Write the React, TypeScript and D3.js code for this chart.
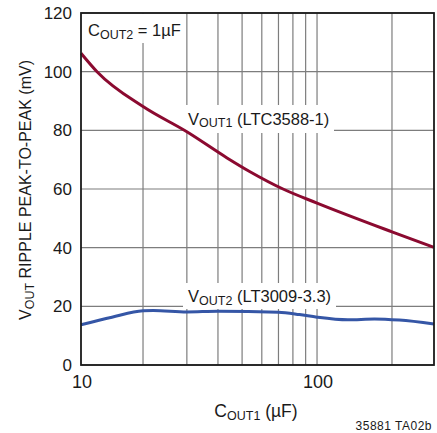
import React from "react";
import * as d3 from "d3";

// ---- data ----
const xDomain = [11.27, 295];
const yDomain = [0, 120];
const xGridValues = [20, 30, 40, 50, 60, 70, 80, 90, 100, 200];
const yGridValues = [0, 20, 40, 60, 80, 100, 120];
const xTickLabels = [
  { value: 11.27, label: "10" },
  { value: 100, label: "100" },
];
const yTickLabels = ["0", "20", "40", "60", "80", "100", "120"];

const vout1X = [11.27, 13.07, 20, 30, 43.5, 53.8, 73, 100, 200, 295];
const vout1Y = [106.3, 100, 88.1, 79.5, 70.6, 65.9, 60, 55.2, 45.4, 40.1];

const vout2X = [11.27, 15, 20, 22, 30, 40, 70, 85, 100, 133, 170, 214, 295];
const vout2Y = [13.7, 16.3, 18.5, 18.6, 18.1, 18.3, 18.0, 17.2, 16.3, 15.4, 15.7, 15.3, 14.0];

const FONT = "'Liberation Sans', Arial, Helvetica, sans-serif";

export default function App() {
  const W = 437, H = 433;
  const L = 81, R = 434, T = 13, B = 365;
  const x = d3.scaleLog().domain(xDomain).range([L, R]);
  const y = d3.scaleLinear().domain(yDomain).range([B, T]);

  const line = d3
    .line<[number, number]>()
    .x((d) => x(d[0]))
    .y((d) => y(d[1]))
    .curve(d3.curveMonotoneX);

  const red = line(vout1X.map((v, i) => [v, vout1Y[i]]) as [number, number][]) || "";
  const blue = line(vout2X.map((v, i) => [v, vout2Y[i]]) as [number, number][]) || "";

  const gridColor = "#7d7d7d";
  const sub = (t: string) => (
    <tspan fontSize={12.5} dy={2.5}>{t}</tspan>
  );

  return (
    <svg
      width={W}
      height={H}
      style={{ position: "absolute", left: 0, top: 0, background: "#fff" }}
      fontFamily={FONT}
    >
      <rect x={0} y={0} width={W} height={H} fill="#fff" />
      {/* grid */}
      {xGridValues.map((v) => (
        <line key={"gx" + v} x1={x(v)} x2={x(v)} y1={T} y2={B} stroke={gridColor} strokeWidth={1.2} />
      ))}
      {yGridValues.map((v) => (
        <line key={"gy" + v} x1={L} x2={R} y1={y(v)} y2={y(v)} stroke={gridColor} strokeWidth={1.2} />
      ))}
      {/* label backgrounds */}
      <rect x={L + 1} y={T + 1} width={101} height={29} fill="#fff" />
      <rect x={184} y={105} width={150} height={28} fill="#fff" />
      <rect x={183} y={283} width={153} height={26} fill="#fff" />

      {/* curves */}
      <path d={red} fill="none" stroke="#8b0a30" strokeWidth={3} strokeLinejoin="round" />
      <path d={blue} fill="none" stroke="#3556a6" strokeWidth={3} strokeLinejoin="round" />

      {/* frame */}
      <rect x={L} y={T} width={R - L} height={B - T} fill="none" stroke="#1a1a1a" strokeWidth={1.8} />

      {/* annotations */}
      <text x={88} y={36} fontSize={16.5} fill="#1a1a1a">
        C{sub("OUT2")}<tspan dy={-2.5}> = 1µF</tspan>
      </text>
      <text x={188} y={124.5} fontSize={16.5} fill="#1a1a1a">
        V{sub("OUT1")}<tspan dy={-2.5}> (LTC3588-1)</tspan>
      </text>
      <text x={188} y={302} fontSize={16.5} fill="#1a1a1a">
        V{sub("OUT2")}<tspan dy={-2.5}> (LT3009-3.3)</tspan>
      </text>

      {/* y ticks */}
      {yGridValues.map((v, i) => (
        <text key={"yt" + v} x={72} y={y(v)} dy="0.36em" textAnchor="end" fontSize={17} fill="#1a1a1a">
          {yTickLabels[i]}
        </text>
      ))}
      {/* x ticks */}
      {xTickLabels.map((t) => (
        <text key={"xt" + t.label} x={x(t.value) + 1} y={388} textAnchor="middle" fontSize={18} fill="#1a1a1a">
          {t.label}
        </text>
      ))}

      {/* axis titles */}
      <text x={256} y={417} textAnchor="middle" fontSize={17.5} fill="#1a1a1a">
        C{sub("OUT1")}<tspan dy={-2.5}> (µF)</tspan>
      </text>
      <text transform="translate(31,190) rotate(-90)" textAnchor="middle" fontSize={16} fill="#1a1a1a">
        V{sub("OUT")}<tspan dy={-2.5}> RIPPLE PEAK-TO-PEAK (mV)</tspan>
      </text>

      <text x={432} y={430} textAnchor="end" fontSize={12} letterSpacing={0.5} fill="#1a1a1a">
        35881 TA02b
      </text>
    </svg>
  );
}
